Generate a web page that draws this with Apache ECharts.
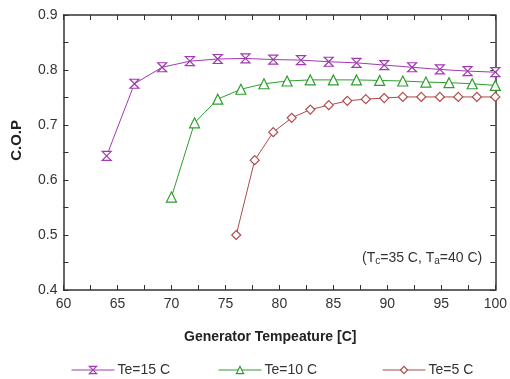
<!DOCTYPE html>
<html><head><meta charset="utf-8">
<script src="https://cdn.jsdelivr.net/npm/echarts@6/dist/echarts.min.js"></script>
<style>html,body{margin:0;padding:0;background:#fff}#c{width:510px;height:379px}</style>
</head><body><div id="c"></div>
<script>
var te15X = [64, 66.57, 69.14, 71.71, 74.29, 76.86, 79.43, 82, 84.57, 87.14, 89.71, 92.29, 94.86, 97.43, 100];
var te15Y = [0.644, 0.775, 0.805, 0.816, 0.820, 0.821, 0.819, 0.818, 0.815, 0.813, 0.809, 0.805, 0.801, 0.798, 0.796];
var te10X = [70, 72.14, 74.29, 76.43, 78.57, 80.71, 82.86, 85, 87.14, 89.29, 91.43, 93.57, 95.71, 97.86, 100];
var te10Y = [0.569, 0.704, 0.747, 0.765, 0.775, 0.780, 0.782, 0.782, 0.782, 0.781, 0.780, 0.778, 0.777, 0.775, 0.772];
var te5X = [76, 77.71, 79.43, 81.14, 82.86, 84.57, 86.29, 88, 89.71, 91.43, 93.14, 94.86, 96.57, 98.29, 100];
var te5Y = [0.500, 0.636, 0.687, 0.713, 0.728, 0.736, 0.744, 0.747, 0.749, 0.751, 0.751, 0.751, 0.751, 0.751, 0.751];
var seriesNames = ['Te=15 C', 'Te=10 C', 'Te=5 C'];
var xTicks = [60, 65, 70, 75, 80, 85, 90, 95, 100];
var yTicks = [0.4, 0.5, 0.6, 0.7, 0.8, 0.9];

function pairs(xs, ys) { return xs.map(function (x, i) { return [x, ys[i]]; }); }
var colors = ['#a03ab0', '#2e9e2e', '#b04a4a'];
var hourglass = 'path://M0,0 L10,0 L0,10 L10,10 Z';
var font = 'Liberation Sans, Arial, sans-serif';

var axisLine = { show: true, lineStyle: { color: '#333', width: 1.5 } };
function xAxisDef(pos, labels) {
  return {
    type: 'value', position: pos, min: 60, max: 100, interval: 5,
    axisLine: axisLine,
    axisTick: { show: true, inside: true, length: 5, lineStyle: { color: '#333', width: 1 } },
    minorTick: { show: true, splitNumber: 2, length: 5, lineStyle: { color: '#333', width: 1 } },
    splitLine: { show: false },
    axisLabel: labels ? { show: true, fontSize: 14, color: '#333', fontFamily: font, margin: 7,
      formatter: function (v) { return xTicks.indexOf(v) >= 0 ? String(v) : ''; } } : { show: false }
  };
}
function yAxisDef(pos, labels) {
  return {
    type: 'value', position: pos, min: 0.4, max: 0.9, interval: 0.1,
    axisLine: axisLine,
    axisTick: { show: true, inside: true, length: 5, lineStyle: { color: '#333', width: 1 } },
    minorTick: { show: true, splitNumber: 2, length: 5, lineStyle: { color: '#333', width: 1 } },
    splitLine: { show: false },
    axisLabel: labels ? { show: true, fontSize: 14, color: '#333', fontFamily: font, margin: 6,
      formatter: function (v) {
        var r = Math.round(v * 10) / 10;
        return yTicks.indexOf(r) >= 0 ? r.toFixed(1) : '';
      } } : { show: false }
  };
}
function ser(i, xs, ys, sym, size) {
  return {
    name: seriesNames[i], type: 'line', xAxisIndex: 0, yAxisIndex: 0,
    data: pairs(xs, ys), symbol: sym, symbolSize: size, showSymbol: true,
    lineStyle: { color: colors[i], width: 1 },
    itemStyle: { color: '#fff', borderColor: colors[i], borderWidth: 1.2 },
    emphasis: { disabled: true }, animation: false
  };
}
function legendDef(i, left) {
  return {
    data: [seriesNames[i]], left: left, top: 363, padding: 0, itemWidth: 43, itemHeight: 9, itemGap: 0,
    lineStyle: { width: 1 },
    itemStyle: { color: '#fff', borderWidth: 1.2 },
    textStyle: { fontSize: 14, color: '#333', fontFamily: font, padding: [0, 0, 0, -2] }
  };
}

var chart = echarts.init(document.getElementById('c'), null, { renderer: 'canvas' });
chart.setOption({
  backgroundColor: '#fff',
  animation: false,
  grid: { left: 63.5, right: 12, top: 15, bottom: 89 },
  xAxis: [xAxisDef('bottom', true), xAxisDef('top', false)],
  yAxis: [yAxisDef('left', true), yAxisDef('right', false)],
  legend: [legendDef(0, 71), legendDef(1, 218), legendDef(2, 382)],
  series: [
    ser(0, te15X, te15Y, hourglass, [9, 9]),
    ser(1, te10X, te10Y, 'triangle', 10),
    ser(2, te5X, te5Y, 'diamond', 9)
  ],
  graphic: [
    { type: 'text', left: 9, top: 120, rotation: Math.PI / 2,
      style: { text: 'C.O.P', font: 'bold 15px ' + font, fill: '#222' } },
    { type: 'text', left: 184, top: 330,
      style: { text: 'Generator Tempeature [C]', font: 'bold 14px ' + font, fill: '#222' } },
    { type: 'text', left: 362, top: 251,
      style: {
        text: '(T{s|c}=35 C, T{s|a}=40 C)', font: '14px ' + font, fill: '#333',
        rich: { s: { fontSize: 10, fontFamily: font, fill: '#333', padding: [7, 0, 0, 0] } }
      } }
  ]
});
</script></body></html>
